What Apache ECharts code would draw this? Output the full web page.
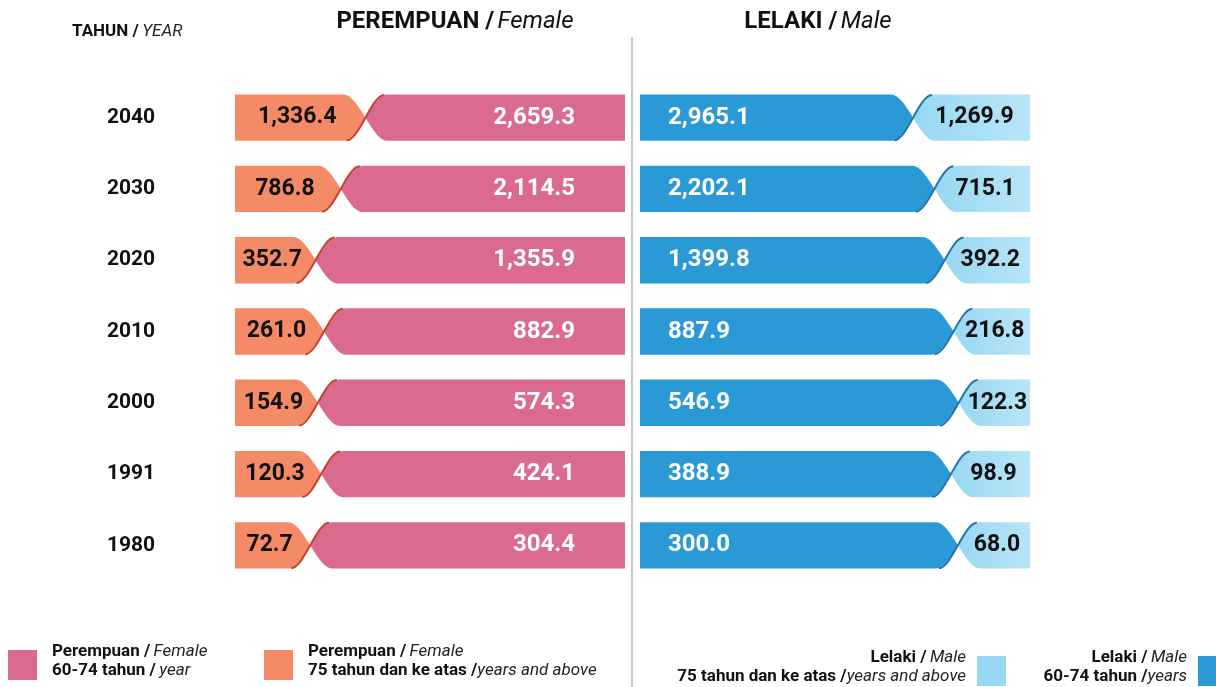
<!DOCTYPE html>
<html>
<head>
<meta charset="utf-8">
<script src="https://cdn.jsdelivr.net/npm/echarts@6/dist/echarts.min.js"></script>
<style>
  html, body { margin: 0; padding: 0; background: #fff; }
  #chart { width: 1216px; height: 687px; }
</style>
</head>
<body>
<div id="chart"></div>
<script>
// penduduk warga emas ('000) mengikut tahun
var years = ['1980', '1991', '2000', '2010', '2020', '2030', '2040'];
var female6074 = [304.4, 424.1, 574.3, 882.9, 1355.9, 2114.5, 2659.3];
var female75 = [72.7, 120.3, 154.9, 261.0, 352.7, 786.8, 1336.4];
var male6074 = [300.0, 388.9, 546.9, 887.9, 1399.8, 2202.1, 2965.1];
var male75 = [68.0, 98.9, 122.3, 216.8, 392.2, 715.1, 1269.9];

var FONT = 'Roboto, "Open Sans", sans-serif';

function fmt(v) {
  return v.toLocaleString('en-US', { minimumFractionDigits: 1, maximumFractionDigits: 1 });
}

// share of 60-74 in each row, 0..100 on the x axis
function shares(a, b) {
  return years.map(function (y, i) {
    return [a[i] / (a[i] + b[i]) * 100, i];
  });
}

var lightBlue = new echarts.graphic.LinearGradient(0, 0, 1, 0, [
  { offset: 0, color: '#98d8f2' },
  { offset: 1, color: '#b8e5f7' }
]);

function makeRender(side) {
  return function (params, api) {
    var i = params.dataIndex;
    var row = api.value(1);
    var a = api.coord([0, row]);
    var s = api.coord([api.value(0), row]);
    var b = api.coord([100, row]);
    var h = api.size([0, 1])[1] * 0.65;
    var ym = a[1], yT = ym - h / 2, yB = ym + h / 2;
    var xl = Math.min(a[0], b[0]), xr = Math.max(a[0], b[0]);
    var c = s[0], w = 22;

    var leftPath = 'M' + xl + ' ' + yT + ' L' + (c - w) + ' ' + yT +
      ' C' + (c - 0.65 * w) + ' ' + yT + ' ' + (c - 0.325 * w) + ' ' + (yT + h / 4) + ' ' + c + ' ' + ym +
      ' C' + (c - 0.325 * w) + ' ' + (yB - h / 4) + ' ' + (c - 0.65 * w) + ' ' + yB + ' ' + (c - w) + ' ' + yB +
      ' L' + xl + ' ' + yB + ' Z';
    var rightPath = 'M' + xr + ' ' + yT + ' L' + (c + w) + ' ' + yT +
      ' C' + (c + 0.65 * w) + ' ' + yT + ' ' + (c + 0.325 * w) + ' ' + (yT + h / 4) + ' ' + c + ' ' + ym +
      ' C' + (c + 0.325 * w) + ' ' + (yB - h / 4) + ' ' + (c + 0.65 * w) + ' ' + yB + ' ' + (c + w) + ' ' + yB +
      ' L' + xr + ' ' + yB + ' Z';
    var ribbon = 'M' + (c - w + 3) + ' ' + (yB - 0.5) +
      ' C' + (c - 0.3 * w) + ' ' + yB + ' ' + (c + 0.3 * w) + ' ' + yT + ' ' + (c + w - 3) + ' ' + (yT + 0.5);

    var big = 'bold 24px ' + FONT, small = 'bold 23px ' + FONT;
    var leftFill, rightFill, ribbonColor, leftText, rightText;
    if (side === 'f') {
      leftFill = '#f48b66'; rightFill = '#db6a8f'; ribbonColor = '#c4402c';
      leftText = { type: 'text', x: (xl + c) / 2 - 3, y: ym,
        style: { text: fmt(female75[i]), fill: '#111', font: small, align: 'center', verticalAlign: 'middle' } };
      rightText = { type: 'text', x: xr - 50, y: ym,
        style: { text: fmt(female6074[i]), fill: '#fff', font: big, align: 'right', verticalAlign: 'middle' } };
    } else {
      leftFill = '#2a9ad6'; rightFill = lightBlue; ribbonColor = '#2474aa';
      leftText = { type: 'text', x: xl + 28, y: ym,
        style: { text: fmt(male6074[i]), fill: '#fff', font: big, align: 'left', verticalAlign: 'middle' } };
      rightText = { type: 'text', x: (c + xr) / 2 + 3, y: ym,
        style: { text: fmt(male75[i]), fill: '#111', font: small, align: 'center', verticalAlign: 'middle' } };
    }

    return {
      type: 'group',
      children: [
        { type: 'path', shape: { pathData: leftPath }, style: { fill: leftFill } },
        { type: 'path', shape: { pathData: rightPath }, style: { fill: rightFill } },
        { type: 'path', shape: { pathData: ribbon }, style: { fill: null, stroke: ribbonColor, lineWidth: 2 } },
        leftText,
        rightText
      ]
    };
  };
}

function legendItem(x, y, color, line1, line2, right) {
  var sq = { type: 'rect', shape: { x: x, y: y, width: 29, height: 30 }, style: { fill: color } };
  var tx = right ? x - 11 : x + 44;
  var al = right ? 'right' : 'left';
  var rich = {
    b: { font: 'bold 17px ' + FONT, fill: '#111' },
    i: { font: 'italic 17px ' + FONT, fill: '#222' }
  };
  return [
    sq,
    { type: 'text', x: tx, y: y + 2, style: { text: line1, rich: rich, align: al, verticalAlign: 'middle' } },
    { type: 'text', x: tx, y: y + 21, style: { text: line2, rich: rich, align: al, verticalAlign: 'middle' } }
  ];
}

var chart = echarts.init(document.getElementById('chart'));

var titleRich = {
  b: { font: 'bold 24px ' + FONT, fill: '#111' },
  i: { font: 'italic 24px ' + FONT, fill: '#111' }
};

var graphics = [
  { type: 'line', shape: { x1: 632, y1: 37, x2: 632, y2: 687 }, style: { stroke: '#b5b5b5', lineWidth: 1.5 } },
  { type: 'text', x: 72, y: 32, style: {
      text: '{b|TAHUN /} {i|YEAR}', align: 'left', verticalAlign: 'middle',
      rich: { b: { font: 'bold 17px ' + FONT, fill: '#111' }, i: { font: 'italic 17px ' + FONT, fill: '#222' } } } },
  { type: 'text', x: 455, y: 22, style: { text: '{b|PEREMPUAN /} {i|Female}', align: 'center', verticalAlign: 'middle', rich: titleRich } },
  { type: 'text', x: 818, y: 22, style: { text: '{b|LELAKI /} {i|Male}', align: 'center', verticalAlign: 'middle', rich: titleRich } }
]
  .concat(legendItem(8, 650, '#db6a8f', '{b|Perempuan /} {i|Female}', '{b|60-74 tahun /} {i|year}', false))
  .concat(legendItem(264, 650, '#f48b66', '{b|Perempuan /} {i|Female}', '{b|75 tahun dan ke atas /}{i|years and above}', false))
  .concat(legendItem(977, 656, '#98d8f2', '{b|Lelaki /} {i|Male}', '{b|75 tahun dan ke atas /}{i|years and above}', true))
  .concat(legendItem(1198, 656, '#2a9ad6', '{b|Lelaki /} {i|Male}', '{b|60-74 tahun /}{i|years}', true));

chart.setOption({
  animation: false,
  backgroundColor: '#fff',
  grid: [
    { left: 235, width: 390, top: 82, height: 499 },
    { left: 640, width: 390, top: 82, height: 499 }
  ],
  xAxis: [
    { gridIndex: 0, type: 'value', min: 0, max: 100, inverse: true, show: false },
    { gridIndex: 1, type: 'value', min: 0, max: 100, show: false }
  ],
  yAxis: [
    {
      gridIndex: 0, type: 'category', data: years,
      axisLine: { show: false }, axisTick: { show: false }, splitLine: { show: false },
      axisLabel: { fontFamily: FONT, fontSize: 21, fontWeight: 'bold', color: '#111', align: 'center', margin: 104 }
    },
    { gridIndex: 1, type: 'category', data: years, show: false }
  ],
  series: [
    {
      type: 'custom', name: 'Perempuan', xAxisIndex: 0, yAxisIndex: 0, silent: true,
      encode: { x: 0, y: 1 }, data: shares(female6074, female75), renderItem: makeRender('f')
    },
    {
      type: 'custom', name: 'Lelaki', xAxisIndex: 1, yAxisIndex: 1, silent: true,
      encode: { x: 0, y: 1 }, data: shares(male6074, male75), renderItem: makeRender('m')
    }
  ],
  graphic: graphics
});
</script>
</body>
</html>
